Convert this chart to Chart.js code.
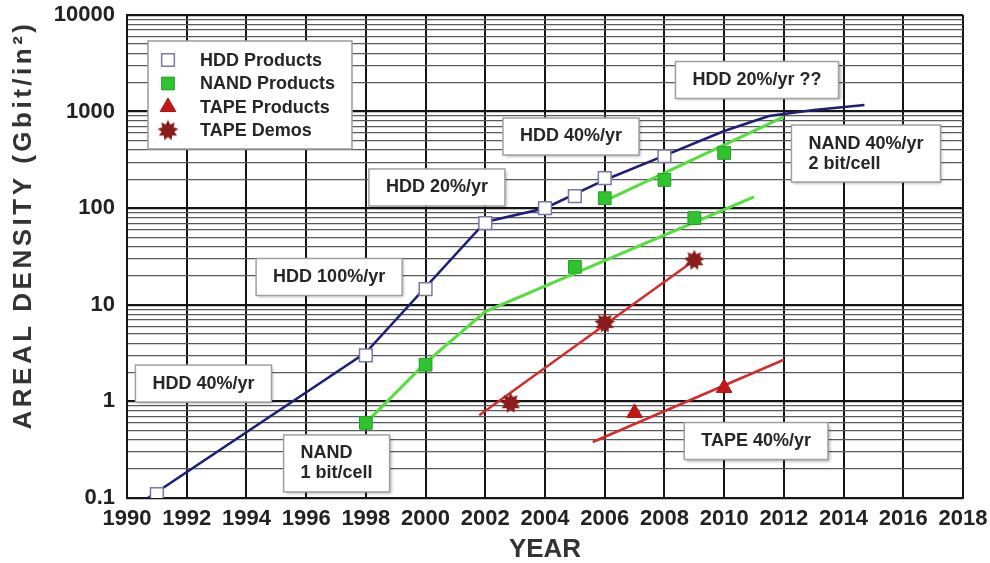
<!DOCTYPE html>
<html>
<head>
<meta charset="utf-8">
<script src="https://cdn.jsdelivr.net/npm/chart.js@4.4.1/dist/chart.umd.min.js"></script>
<style>
  html, body { margin: 0; padding: 0; background: #fff; }
  #wrap { width: 990px; height: 563px; }
</style>
</head>
<body>
<div id="wrap"><canvas id="chart"></canvas></div>
<script>
// axis labels
var xTickLabels = ['1990', '1992', '1994', '1996', '1998', '2000', '2002', '2004', '2006',
                   '2008', '2010', '2012', '2014', '2016', '2018'];
var yTickLabels = ['0.1', '1', '10', '100', '1000', '10000'];
var xTitle = 'YEAR';
var yTitle = 'AREAL DENSITY (Gbit/in\u00B2)';

// product points
var hddYears  = [1991, 1998, 2000, 2002, 2004, 2005, 2006, 2008];
var hddValues = [0.11, 3.0, 14.5, 70, 100, 133, 205, 345];
var nandYears  = [1998, 2000, 2005, 2006, 2008, 2009, 2010];
var nandValues = [0.6, 2.4, 24.7, 127, 196, 79, 373];
var tapeYears  = [2007, 2010];
var tapeValues = [0.76, 1.38];
var demoYears  = [2002.85, 2006, 2009];
var demoValues = [0.96, 6.5, 29];

// trend lines
var hddTrendYears  = [1990.7, 1998, 2002, 2004, 2006, 2008, 2010, 2011.5, 2013, 2014.7];
var hddTrendValues = [0.1, 3.2, 72, 100, 196, 350, 630, 900, 1040, 1170];
var nand1TrendYears  = [1998, 2000, 2002, 2011];
var nand1TrendValues = [0.6, 2.5, 8.5, 131];
var nand2TrendYears  = [2005.85, 2012];
var nand2TrendValues = [113, 880];
var demoTrendYears  = [2001.8, 2009.2];
var demoTrendValues = [0.72, 32];
var tapeTrendYears  = [2005.6, 2012];
var tapeTrendValues = [0.38, 2.7];

// text boxes (centre in data units)
var noteTexts  = ['HDD 20%/yr ??', 'HDD 40%/yr', 'NAND 40%/yr\n2 bit/cell', 'HDD 20%/yr',
                  'HDD 100%/yr', 'HDD 40%/yr', 'NAND\n1 bit/cell', 'TAPE 40%/yr'];
var noteYears  = [2011.1, 2004.87, 2014.75, 2000.38, 1996.77, 1992.56, 1997.02, 2011.07];
var noteValues = [2124, 552, 368, 164, 19.4, 1.53, 0.228, 0.389];

var FONT = '"Liberation Sans", Arial, sans-serif';

function pts(xs, ys) {
  return xs.map(function(x, i) { return { x: x, y: ys[i] }; });
}

function isDecade(v) {
  var l = Math.log10(v);
  return Math.abs(l - Math.round(l)) < 1e-9;
}

// spiky burst for the tape demos
function makeBurst(color) {
  var c = document.createElement('canvas');
  c.width = 22; c.height = 22;
  var g = c.getContext('2d');
  g.fillStyle = color;
  g.beginPath();
  var n = 9;
  for (var i = 0; i < n * 2; i++) {
    var r = i % 2 == 0 ? 10.5 : 6.5;
    var a = Math.PI * i / n - Math.PI / 2;
    var px = 11 + r * Math.cos(a), py = 11 + r * Math.sin(a);
    if (i == 0) g.moveTo(px, py); else g.lineTo(px, py);
  }
  g.closePath();
  g.fill();
  return c;
}
var burst = makeBurst('#8a1c1c');

function trend(data, color, width) {
  return {
    label: '', data: data, showLine: true, borderColor: color, borderWidth: width,
    pointRadius: 0, pointHoverRadius: 0, fill: false, isTrend: true
  };
}

var notesPlugin = {
  id: 'notes',
  afterDatasetsDraw: function(chart) {
    var ctx = chart.ctx, xs = chart.scales.x, ys = chart.scales.y;
    ctx.save();
    ctx.font = 'bold 18px ' + FONT;
    for (var i = 0; i < noteTexts.length; i++) {
      var lines = noteTexts[i].split('\n');
      var w = 0;
      lines.forEach(function(l) { w = Math.max(w, ctx.measureText(l).width); });
      var bw = w + 34, bh = lines.length * 20 + 17;
      var left = xs.getPixelForValue(noteYears[i]) - bw / 2;
      var top = ys.getPixelForValue(noteValues[i]) - bh / 2;
      ctx.shadowColor = 'rgba(0,0,0,0.3)';
      ctx.shadowOffsetX = 2; ctx.shadowOffsetY = 2; ctx.shadowBlur = 3;
      ctx.fillStyle = '#fff';
      ctx.fillRect(left, top, bw, bh);
      ctx.shadowColor = 'transparent';
      ctx.strokeStyle = '#a0a0a0';
      ctx.lineWidth = 1.5;
      ctx.strokeRect(left, top, bw, bh);
      ctx.fillStyle = '#262626';
      ctx.textBaseline = 'middle';
      ctx.textAlign = 'left';
      for (var j = 0; j < lines.length; j++) {
        ctx.fillText(lines[j], left + 17, top + 8.5 + 10 + j * 20);
      }
    }
    ctx.restore();
  }
};

var legendPlugin = {
  id: 'boxLegend',
  afterDatasetsDraw: function(chart) {
    var ctx = chart.ctx, area = chart.chartArea;
    var left = area.left + 21, top = area.top + 26;
    ctx.save();
    ctx.fillStyle = '#fff';
    ctx.fillRect(left, top, 204, 108);
    ctx.strokeStyle = '#9a9a9a';
    ctx.lineWidth = 1.5;
    ctx.strokeRect(left, top, 204, 108);
    ctx.font = 'bold 18px ' + FONT;
    ctx.textBaseline = 'middle';
    var row = 0;
    chart.data.datasets.forEach(function(ds) {
      if (ds.isTrend) return;
      var y = top + 19 + row * 23.5;
      ctx.fillStyle = ds.backgroundColor;
      ctx.strokeStyle = ds.borderColor;
      ctx.lineWidth = ds.borderWidth;
      Chart.helpers.drawPoint(ctx, {
        pointStyle: ds.pointStyle, radius: ds.pointRadius, borderWidth: ds.borderWidth, rotation: 0
      }, left + 20, y);
      ctx.fillStyle = '#262626';
      ctx.fillText(ds.label, left + 52, y + 1);
      row++;
    });
    ctx.restore();
  }
};

var yTitlePlugin = {
  id: 'yTitle',
  afterDraw: function(chart) {
    var ctx = chart.ctx, area = chart.chartArea;
    ctx.save();
    ctx.translate(24, area.top + 210);
    ctx.rotate(-Math.PI / 2);
    ctx.font = 'bold 26px ' + FONT;
    if ('letterSpacing' in ctx) ctx.letterSpacing = '3.5px';
    ctx.fillStyle = '#333';
    ctx.textAlign = 'center';
    ctx.textBaseline = 'middle';
    ctx.fillText(yTitle, 0, 0);
    ctx.restore();
  }
};

var chart = new Chart(document.getElementById('chart'), {
  type: 'scatter',
  data: {
    datasets: [
      {
        label: 'HDD Products', data: pts(hddYears, hddValues),
        pointStyle: 'rect', pointRadius: 9, backgroundColor: '#ffffff',
        borderColor: '#7a7aa0', borderWidth: 1.5
      },
      {
        label: 'NAND Products', data: pts(nandYears, nandValues),
        pointStyle: 'rect', pointRadius: 9, backgroundColor: '#2fc42f',
        borderColor: '#22a022', borderWidth: 1
      },
      {
        label: 'TAPE Products', data: pts(tapeYears, tapeValues),
        pointStyle: 'triangle', pointRadius: 9, backgroundColor: '#c21818',
        borderColor: '#b01010', borderWidth: 1
      },
      {
        label: 'TAPE Demos', data: pts(demoYears, demoValues),
        pointStyle: burst, pointRadius: 11, backgroundColor: '#8a1c1c',
        borderColor: '#8a1c1c', borderWidth: 0
      },
      trend(pts(hddTrendYears, hddTrendValues), '#1e1e78', 2.5),
      trend(pts(nand1TrendYears, nand1TrendValues), '#56de3c', 3),
      trend(pts(nand2TrendYears, nand2TrendValues), '#56de3c', 3),
      trend(pts(demoTrendYears, demoTrendValues), '#d42c2c', 2.5),
      trend(pts(tapeTrendYears, tapeTrendValues), '#d42c2c', 2.5)
    ]
  },
  options: {
    responsive: true,
    maintainAspectRatio: false,
    animation: false,
    layout: { padding: { top: 15, right: 27, bottom: 0, left: 0 } },
    plugins: {
      legend: { display: false },
      tooltip: { enabled: false }
    },
    scales: {
      x: {
        type: 'linear',
        min: 1990,
        max: 2018,
        afterBuildTicks: function(scale) {
          scale.ticks = xTickLabels.map(function(l) { return { value: parseInt(l) }; });
        },
        afterFit: function(scale) {
          scale.height = 65;
          scale.paddingLeft = 0;
          scale.paddingRight = 0;
        },
        ticks: {
          autoSkip: false,
          maxRotation: 0,
          padding: 8,
          color: '#222',
          font: { family: FONT, size: 22, weight: 'bold' },
          callback: function(value, index) { return xTickLabels[index]; }
        },
        grid: { color: '#151515', lineWidth: 2, drawTicks: false },
        border: { color: '#151515', width: 2 },
        title: {
          display: true,
          text: xTitle,
          color: '#333',
          font: { family: FONT, size: 26, weight: 'bold', lineHeight: 1 },
          padding: { top: 0, bottom: 0 }
        }
      },
      y: {
        type: 'logarithmic',
        min: 0.1,
        max: 10000,
        afterBuildTicks: function(scale) {
          var ticks = [];
          for (var e = -1; e < 4; e++) {
            for (var m = 1; m < 10; m++) ticks.push({ value: m * Math.pow(10, e) });
          }
          ticks.push({ value: 10000 });
          scale.ticks = ticks;
        },
        afterFit: function(scale) {
          scale.width = 127;
          scale.paddingTop = 0;
          scale.paddingBottom = 0;
        },
        ticks: {
          autoSkip: false,
          padding: 12,
          color: '#222',
          font: { family: FONT, size: 22, weight: 'bold' },
          callback: function(value) {
            if (!isDecade(value)) return '';
            return yTickLabels[Math.round(Math.log10(value)) + 1];
          }
        },
        grid: {
          drawTicks: false,
          color: function(c) { return c.tick && isDecade(c.tick.value) ? '#151515' : '#5a5a5a'; },
          lineWidth: function(c) { return c.tick && isDecade(c.tick.value) ? 2.2 : 1.2; }
        },
        border: { color: '#151515', width: 2 },
        title: { display: false }
      }
    }
  },
  plugins: [legendPlugin, notesPlugin, yTitlePlugin]
});
</script>
</body>
</html>
